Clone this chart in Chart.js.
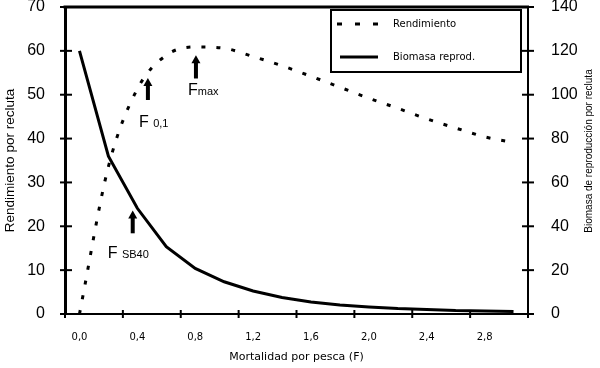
<!DOCTYPE html>
<html>
<head>
<meta charset="utf-8">
<script src="https://cdn.jsdelivr.net/npm/chart.js@4/dist/chart.umd.min.js"></script>
<style>
  body { margin: 0; background: #fff; }
  #chart { display: block; }
</style>
</head>
<body>
<canvas id="chart" width="600" height="368"></canvas>
<script>
// Data
const mortalidad = [0, 0.2, 0.4, 0.6, 0.8, 1.0, 1.2, 1.4, 1.6, 1.8, 2.0, 2.2, 2.4, 2.6, 2.8, 3.0];
const rendimiento = [0, 33.6, 51.3, 59.0, 60.9, 60.6, 58.7, 56.6, 54.2, 51.7, 49.2, 46.9, 44.5, 42.4, 40.4, 39.1];
const biomasa = [120, 72, 48.2, 30.7, 20.8, 14.7, 10.5, 7.5, 5.5, 4.1, 3.2, 2.5, 2.1, 1.6, 1.4, 1.1];

// Axis ticks
const xTicks = [0, 0.4, 0.8, 1.2, 1.6, 2.0, 2.4, 2.8];
const xMarks = [-0.1, 0.3, 0.7, 1.1, 1.5, 1.9, 2.3, 2.7, 3.1];

// Arrows and labels (F, value on left axis)
const arrowF = [0.473, 0.805, 0.368];
const arrowFrom = [48.8, 53.7, 18.4];
const arrowTo = [53.8, 59.0, 23.6];
const noteF = [0.411, 0.75, 0.195];
const noteY = [42.6, 49.9, 12.8];
const noteMain = ['F ', 'F', 'F '];
const noteSub = ['0,1', 'max', 'SB40'];

function points(ys) {
  return mortalidad.map(function (f, i) { return { x: f, y: ys[i] }; });
}

function line(ctx, x1, y1, x2, y2) {
  ctx.beginPath();
  ctx.moveTo(x1, y1);
  ctx.lineTo(x2, y2);
  ctx.stroke();
}

// Frame, crossing tick marks, legend box, right title
const extras = {
  id: 'extras',
  afterDraw(chart) {
    const ctx = chart.ctx;
    const a = chart.chartArea;
    const x = chart.scales.x, y = chart.scales.y, y2 = chart.scales.y2;
    ctx.save();
    ctx.strokeStyle = '#000';
    ctx.fillStyle = '#000';

    ctx.lineWidth = 3;
    line(ctx, a.left - 1.5, a.top, a.right + 1, a.top);

    ctx.lineWidth = 2;
    y.ticks.forEach(function (t) {
      var py = y.getPixelForValue(t.value);
      line(ctx, a.left - 5, py, a.left + 7, py);
    });
    y2.ticks.forEach(function (t) {
      var py = y2.getPixelForValue(t.value);
      line(ctx, a.right - 6, py, a.right + 6, py);
    });
    xMarks.forEach(function (v) {
      var px = x.getPixelForValue(v);
      line(ctx, px, a.bottom - 4, px, a.bottom + 4);
    });

    // arrows
    arrowF.forEach(function (f, i) {
      var px = x.getPixelForValue(f);
      var p0 = y.getPixelForValue(arrowFrom[i]);
      var p1 = y.getPixelForValue(arrowTo[i]);
      ctx.lineWidth = 4;
      line(ctx, px, p0, px, p1 + 7);
      ctx.beginPath();
      ctx.moveTo(px - 4.5, p1 + 8);
      ctx.lineTo(px + 4.5, p1 + 8);
      ctx.lineTo(px, p1);
      ctx.closePath();
      ctx.fill();
    });

    // arrow labels
    ctx.textBaseline = 'alphabetic';
    ctx.textAlign = 'left';
    noteF.forEach(function (f, i) {
      var px = x.getPixelForValue(f);
      var py = y.getPixelForValue(noteY[i]);
      ctx.font = '16px "Liberation Sans", Arial, sans-serif';
      ctx.fillText(noteMain[i], px, py);
      var w = ctx.measureText(noteMain[i]).width;
      ctx.font = '11px "Liberation Sans", Arial, sans-serif';
      ctx.fillText(noteSub[i], px + w, py);
    });

    // legend
    ctx.fillStyle = '#fff';
    ctx.fillRect(331, 10, 190, 62);
    ctx.lineWidth = 2;
    ctx.strokeRect(331, 10, 190, 62);
    ctx.lineWidth = 3;
    ctx.setLineDash([5, 13]);
    line(ctx, 337, 24, 380, 24);
    ctx.setLineDash([]);
    line(ctx, 340, 57, 378, 57);
    ctx.fillStyle = '#000';
    ctx.font = '10px "DejaVu Sans", sans-serif';
    ctx.textBaseline = 'middle';
    ctx.fillText('Rendimiento', 393, 24);
    ctx.fillText('Biomasa reprod.', 393, 57);

    // right axis title, read from bottom to top
    ctx.translate(589, 151);
    ctx.rotate(-Math.PI / 2);
    ctx.textAlign = 'center';
    ctx.font = '10px "Liberation Sans", Arial, sans-serif';
    ctx.fillText('Biomasa de reproducción por recluta', 0, 0);
    ctx.restore();
  }
};

var ctx = document.getElementById('chart').getContext('2d');
var chart = new Chart(ctx, {
  type: 'line',
  data: {
    datasets: [
      {
        label: 'Rendimiento',
        data: points(rendimiento),
        yAxisID: 'y',
        borderColor: '#000',
        borderWidth: 3,
        borderDash: [4, 11],
        pointRadius: 0,
        cubicInterpolationMode: 'monotone',
        fill: false,
      },
      {
        label: 'Biomasa reprod.',
        data: points(biomasa),
        yAxisID: 'y2',
        borderColor: '#000',
        borderWidth: 3,
        pointRadius: 0,
        tension: 0,
        fill: false,
      },
    ],
  },
  options: {
    responsive: false,
    animation: false,
    layout: { padding: { top: 7, left: 0, right: 0, bottom: 0 } },
    plugins: {
      legend: { display: false },
      tooltip: { enabled: false },
    },
    scales: {
      x: {
        type: 'linear',
        min: -0.1,
        max: 3.1,
        grid: { display: false },
        border: { display: true, color: '#000', width: 2 },
        afterBuildTicks: function (s) {
          s.ticks = xTicks.map(function (v) { return { value: v }; });
        },
        afterFit: function (s) {
          s.height = 54;
          s.paddingLeft = 0;
          s.paddingRight = 0;
        },
        ticks: {
          color: '#000',
          padding: 9,
          maxRotation: 0,
          font: { family: '"DejaVu Sans", sans-serif', size: 10 },
          callback: function (v) { return v.toFixed(1).replace('.', ','); },
        },
        title: {
          display: true,
          text: 'Mortalidad por pesca (F)',
          color: '#000',
          padding: { top: 0, bottom: 4 },
          font: { family: '"DejaVu Sans", sans-serif', size: 11 },
        },
      },
      y: {
        position: 'left',
        min: 0,
        max: 70,
        grid: { display: false },
        border: { display: true, color: '#000', width: 3 },
        afterFit: function (s) {
          s.width = 65;
          s.paddingTop = 0;
          s.paddingBottom = 0;
        },
        ticks: {
          stepSize: 10,
          color: '#000',
          padding: 12,
          font: { family: '"Liberation Sans", Arial, sans-serif', size: 16 },
        },
        title: {
          display: true,
          text: 'Rendimiento por recluta',
          color: '#000',
          padding: { top: 2, bottom: 0 },
          font: { family: '"Liberation Sans", Arial, sans-serif', size: 13.5 },
        },
      },
      y2: {
        position: 'right',
        min: 0,
        max: 140,
        grid: { display: false },
        border: { display: true, color: '#000', width: 2 },
        afterFit: function (s) {
          s.width = 72;
          s.paddingTop = 0;
          s.paddingBottom = 0;
        },
        ticks: {
          stepSize: 20,
          color: '#000',
          padding: 15,
          font: { family: '"Liberation Sans", Arial, sans-serif', size: 16 },
        },
      },
    },
  },
  plugins: [extras],
});
</script>
</body>
</html>
